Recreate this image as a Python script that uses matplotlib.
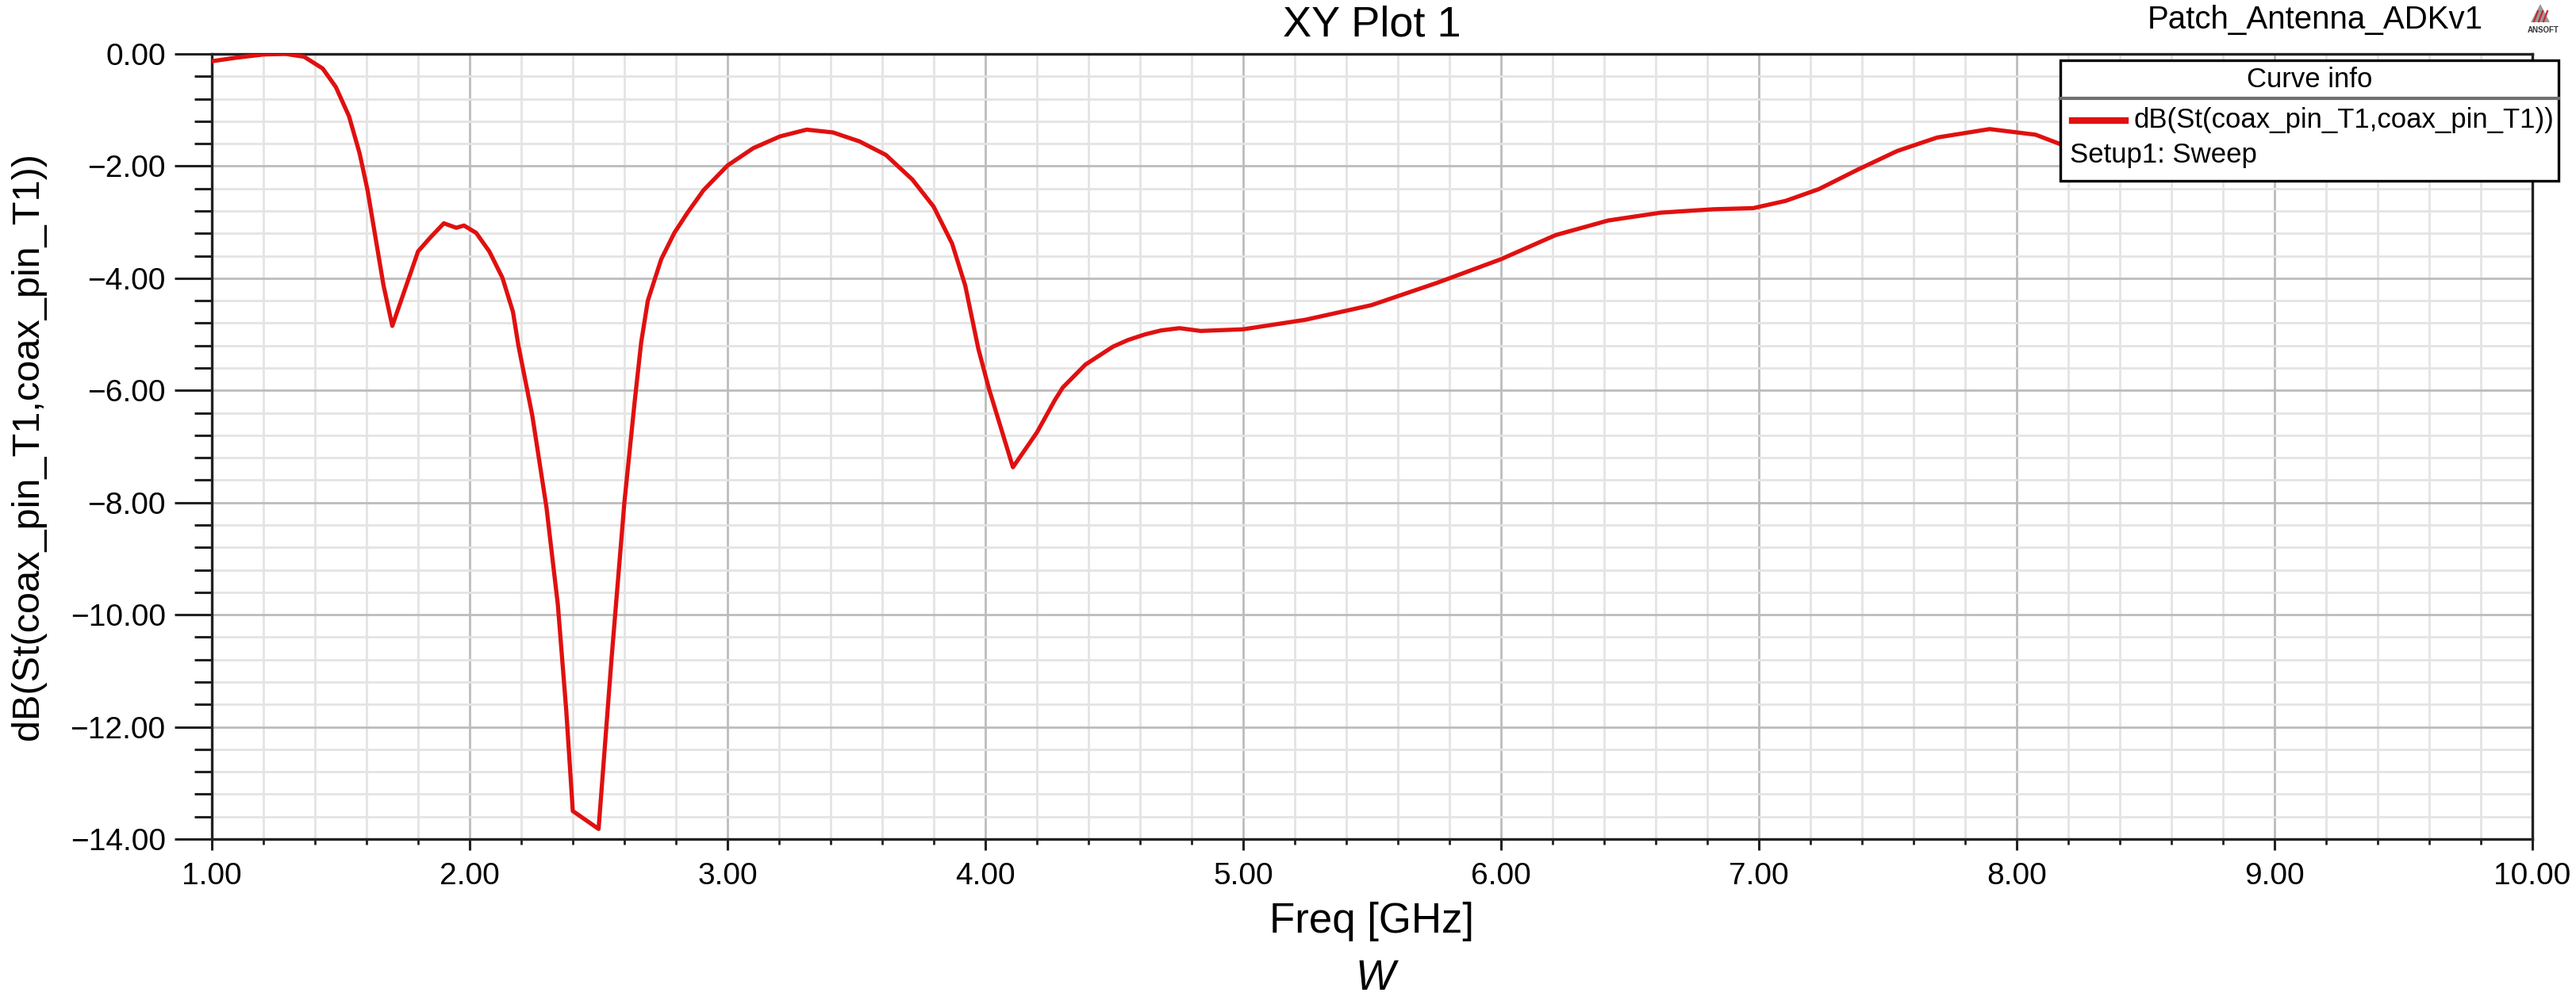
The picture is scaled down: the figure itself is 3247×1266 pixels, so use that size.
import numpy as np
import matplotlib.pyplot as plt
from matplotlib.ticker import MultipleLocator, FuncFormatter
from matplotlib.patches import Rectangle, Polygon
from matplotlib.lines import Line2D

plt.rcParams['font.family'] = ['Liberation Sans', 'DejaVu Sans']

# --- dados (S11 em dB) ---
freq_ghz = [1.00, 1.09, 1.20, 1.286, 1.358, 1.43, 1.481, 1.532, 1.573, 1.604,
            1.635, 1.666, 1.70, 1.80, 1.85, 1.90, 1.948, 1.978, 2.025, 2.076,
            2.127, 2.168, 2.189, 2.243, 2.298, 2.342, 2.375, 2.40, 2.50, 2.55,
            2.60, 2.64, 2.665, 2.691, 2.743, 2.794, 2.845, 2.907, 3.00, 3.10,
            3.204, 3.307, 3.409, 3.512, 3.614, 3.717, 3.799, 3.871, 3.922, 3.973,
            4.014, 4.107, 4.20, 4.27, 4.30, 4.388, 4.495, 4.554, 4.62, 4.682,
            4.753, 4.835, 5.00, 5.242, 5.497, 5.753, 6.00, 6.212, 6.416, 6.62,
            6.824, 6.978, 7.104, 7.233, 7.385, 7.537, 7.692, 7.895, 8.073, 8.17,
            8.40, 8.80, 9.20, 9.60, 10.00]
s11_db = [-0.13, -0.07, -0.01, 0.00, -0.05, -0.26, -0.59, -1.11, -1.77, -2.43,
          -3.28, -4.13, -4.85, -3.52, -3.26, -3.02, -3.10, -3.06, -3.19, -3.52,
          -3.99, -4.60, -5.20, -6.45, -8.09, -9.82, -11.73, -13.50, -13.82, -10.80,
          -8.00, -6.20, -5.15, -4.40, -3.66, -3.19, -2.83, -2.43, -1.99, -1.68,
          -1.47, -1.35, -1.40, -1.56, -1.80, -2.24, -2.72, -3.38, -4.13, -5.26,
          -5.97, -7.37, -6.75, -6.17, -5.95, -5.54, -5.22, -5.10, -5.00, -4.93,
          -4.89, -4.94, -4.91, -4.74, -4.48, -4.08, -3.66, -3.23, -2.97, -2.83,
          -2.77, -2.75, -2.62, -2.41, -2.06, -1.73, -1.49, -1.34, -1.44, -1.61,
          -1.85, -1.95, -1.70, -1.40, -1.20]

curve_label = 'dB(St(coax_pin_T1,coax_pin_T1))'
sweep_label = 'Setup1: Sweep'

W, H = 3248, 1266
fig = plt.figure(figsize=(W / 100, H / 100), dpi=100)

# eixo em pixels da imagem original
x0, x1, y0, y1 = 267, 3192, 68, 1058
ax = fig.add_axes([x0 / W, 1 - y1 / H, (x1 - x0) / W, (y1 - y0) / H])

line, = ax.plot(freq_ghz, s11_db, color='#e01010', linewidth=3.8, label=curve_label,
                zorder=3, solid_joinstyle='round')

ax.set_xlim(1, 10)
ax.set_ylim(-14, 0)
ax.xaxis.set_major_locator(MultipleLocator(1))
ax.xaxis.set_minor_locator(MultipleLocator(0.2))
ax.yaxis.set_major_locator(MultipleLocator(2))
ax.yaxis.set_minor_locator(MultipleLocator(0.4))
fmt = FuncFormatter(lambda v, p: f'{v:.2f}'.replace('-', '\u2212'))
ax.xaxis.set_major_formatter(fmt)
ax.yaxis.set_major_formatter(fmt)

ax.set_axisbelow(True)
ax.grid(which='major', color='#bcbcbc', linewidth=2.0)
ax.grid(which='minor', color='#e4e4e4', linewidth=2.0)

for s in ax.spines.values():
    s.set_linewidth(2.4)
    s.set_color('#222222')

ax.tick_params(axis='y', which='major', direction='out', length=34, width=2.2,
               pad=8, labelsize=28, color='#222222')
ax.tick_params(axis='y', which='minor', direction='out', length=16, width=2.2,
               color='#222222')
ax.tick_params(axis='x', which='major', direction='out', length=10, width=2.2,
               pad=11, labelsize=28, color='#222222')
ax.tick_params(axis='x', which='minor', direction='out', length=5, width=2.0,
               color='#222222')

ax.set_xlabel('Freq [GHz]', fontsize=38, va='center')
ax.xaxis.set_label_coords(0.5, -(1162 - y1) / (y1 - y0))
ax.set_ylabel(curve_label, fontsize=35)
ax.yaxis.set_label_coords(-(x0 - 58) / (x1 - x0), 0.5)
ax.text(0.5, (y1 - 31) / (y1 - y0), 'XY Plot 1', fontsize=39,
        transform=ax.transAxes, ha='center', va='center')

fig.text(1733 / W, 1 - 1234 / H, 'W', fontsize=38, style='italic',
         ha='center', va='center')
fig.text(3130 / W, 1 - 25 / H, 'Patch_Antenna_ADKv1', fontsize=29,
         ha='right', va='center')

# logo ANSOFT (pequeno)
fig.patches.append(Polygon([[3190 / W, 1 - 28 / H], [3214 / W, 1 - 28 / H],
                            [3202 / W, 1 - 5 / H]], closed=True,
                           transform=fig.transFigure, facecolor='#9a9a9a',
                           edgecolor='none', zorder=5))
for k in range(3):
    xs = 3194 + k * 6
    fig.lines.append(Line2D([xs / W, (xs + 5) / W], [1 - 27 / H, 1 - 14 / H],
                            transform=fig.transFigure, color='#c8262c',
                            linewidth=1.6, zorder=6))
fig.text(3206 / W, 1 - 38 / H, 'ANSOFT', fontsize=7, fontweight='bold',
         ha='center', va='center', color='#333333')

# caixa "Curve info"
bx0, bx1, by0, by1 = 2597, 3225, 76, 228
fig.patches.append(Rectangle((bx0 / W, 1 - by1 / H), (bx1 - bx0) / W, (by1 - by0) / H,
                             transform=fig.transFigure, facecolor='white',
                             edgecolor='black', linewidth=2.4, zorder=10))
fig.lines.append(Line2D([bx0 / W, bx1 / W], [1 - 124 / H, 1 - 124 / H],
                        transform=fig.transFigure, color='#707070',
                        linewidth=3, zorder=11))
fig.text((bx0 + bx1) / 2 / W, 1 - 100 / H, 'Curve info', fontsize=25,
         ha='center', va='center', zorder=12)
fig.lines.append(Line2D([2612 / W, 2679 / W], [1 - 152 / H, 1 - 152 / H],
                        transform=fig.transFigure, color=line.get_color(),
                        linewidth=6, zorder=12))
fig.text(2690 / W, 1 - 152 / H, line.get_label(), fontsize=25,
         ha='left', va='center', zorder=12)
fig.text(2609 / W, 1 - 195 / H, sweep_label, fontsize=25,
         ha='left', va='center', zorder=12)

fig.savefig('out.png', dpi=100)
